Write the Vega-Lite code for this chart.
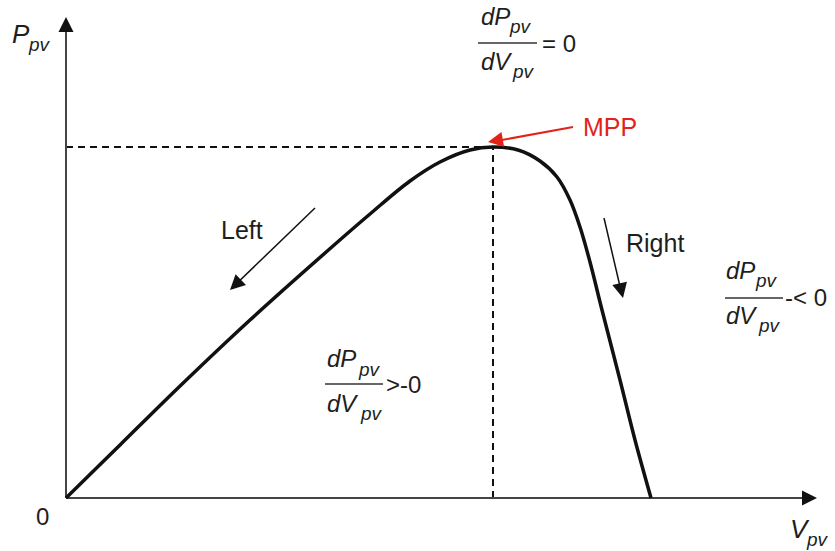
{
  "$schema": "https://vega.github.io/schema/vega-lite/v6.json",
  "width": 835,
  "height": 551,
  "padding": 0,
  "autosize": "none",
  "background": "white",
  "config": {"view": {"stroke": null}},
  "datasets": {
    "curve": [
      {"v": 0, "p": 0}, {"v": 54, "p": 53}, {"v": 112, "p": 110}, {"v": 184, "p": 178},
      {"v": 267, "p": 252}, {"v": 304, "p": 284}, {"v": 344, "p": 317}, {"v": 374, "p": 336},
      {"v": 404, "p": 348}, {"v": 427, "p": 351}, {"v": 452, "p": 348}, {"v": 474, "p": 337},
      {"v": 491, "p": 321}, {"v": 504, "p": 298}, {"v": 514, "p": 271}, {"v": 524, "p": 236},
      {"v": 536, "p": 188}, {"v": 554, "p": 118}, {"v": 569, "p": 58}, {"v": 585, "p": 0}
    ],
    "dashes": [
      {"v": 0, "p": 351, "v2": 427, "p2": 351},
      {"v": 427, "p": 0, "v2": 427, "p2": 351}
    ],
    "axes": [
      {"name": "P", "v": 0, "p": 0, "v2": 0, "p2": 470},
      {"name": "V", "v": 0, "p": 0, "v2": 740, "p2": 0}
    ],
    "arrows": [
      {"name": "Left", "v": 249, "p": 290, "v2": 166, "p2": 210},
      {"name": "Right", "v": 538, "p": 280, "v2": 556, "p2": 203},
      {"name": "MPP", "v": 507, "p": 371, "v2": 425, "p2": 356}
    ],
    "heads": [
      {"name": "P", "v": 0, "p": 481},
      {"name": "V", "v": 751, "p": 0},
      {"name": "Left", "v": 164, "p": 208},
      {"name": "Right", "v": 557, "p": 200},
      {"name": "MPP", "v": 422, "p": 356}
    ],
    "bars": [
      {"v": 412, "p": 455, "v2": 471},
      {"v": 259, "p": 114, "v2": 317},
      {"v": 659, "p": 200, "v2": 717}
    ],
    "labels": [
      {"kind": "big", "v": -54, "p": 455, "t": "P"},
      {"kind": "sub", "v": -37, "p": 447, "t": "pv"},
      {"kind": "num", "v": -30, "p": -27, "t": "0"},
      {"kind": "big", "v": 724, "p": -40, "t": "V"},
      {"kind": "sub", "v": 741, "p": -48, "t": "pv"},
      {"kind": "word", "v": 155, "p": 259, "t": "Left"},
      {"kind": "word", "v": 560, "p": 246, "t": "Right"},
      {"kind": "red", "v": 517, "p": 362, "t": "MPP"},
      {"kind": "frac", "v": 415, "p": 473, "t": "dP"},
      {"kind": "sub", "v": 444, "p": 465, "t": "pv"},
      {"kind": "frac", "v": 415, "p": 428, "t": "dV"},
      {"kind": "sub", "v": 447, "p": 420, "t": "pv"},
      {"kind": "num", "v": 476, "p": 446, "t": "= 0"},
      {"kind": "frac", "v": 261, "p": 131, "t": "dP"},
      {"kind": "sub", "v": 293, "p": 122, "t": "pv"},
      {"kind": "frac", "v": 261, "p": 86, "t": "dV"},
      {"kind": "sub", "v": 295, "p": 78, "t": "pv"},
      {"kind": "num", "v": 320, "p": 105, "t": ">-0"},
      {"kind": "frac", "v": 660, "p": 219, "t": "dP"},
      {"kind": "sub", "v": 690, "p": 211, "t": "pv"},
      {"kind": "frac", "v": 660, "p": 174, "t": "dV"},
      {"kind": "sub", "v": 693, "p": 166, "t": "pv"},
      {"kind": "num", "v": 719, "p": 192, "t": "-< 0"}
    ]
  },
  "encoding": {
    "x": {"field": "v", "type": "quantitative", "scale": {"domain": [-66, 769], "nice": false, "zero": false}, "axis": null},
    "y": {"field": "p", "type": "quantitative", "scale": {"domain": [-53, 498], "nice": false, "zero": false}, "axis": null}
  },
  "layer": [
    {
      "data": {"name": "dashes"},
      "mark": {"type": "rule", "color": "#111111", "strokeWidth": 2, "strokeDash": [7, 5]},
      "encoding": {"x2": {"field": "v2"}, "y2": {"field": "p2"}}
    },
    {
      "data": {"name": "axes"},
      "mark": {"type": "rule", "color": "#444444", "strokeWidth": 2},
      "encoding": {"x2": {"field": "v2"}, "y2": {"field": "p2"}}
    },
    {
      "data": {"name": "curve"},
      "mark": {"type": "line", "color": "#111111", "strokeWidth": 3.5, "interpolate": "catmull-rom"},
      "encoding": {}
    },
    {
      "data": {"name": "arrows"},
      "transform": [{"filter": "datum.name !== 'MPP'"}],
      "mark": {"type": "rule", "color": "#111111", "strokeWidth": 1.5},
      "encoding": {"x2": {"field": "v2"}, "y2": {"field": "p2"}}
    },
    {
      "data": {"name": "arrows"},
      "transform": [{"filter": "datum.name === 'MPP'"}],
      "mark": {"type": "rule", "color": "#e2231a", "strokeWidth": 2},
      "encoding": {"x2": {"field": "v2"}, "y2": {"field": "p2"}}
    },
    {
      "data": {"name": "heads"},
      "transform": [{"filter": "datum.name === 'P'"}],
      "mark": {"type": "point", "shape": "M0,0L-0.5,1L0.5,1Z", "filled": true, "opacity": 1, "color": "#111111", "size": 900, "angle": 0}
    },
    {
      "data": {"name": "heads"},
      "transform": [{"filter": "datum.name === 'V'"}],
      "mark": {"type": "point", "shape": "M0,0L-0.5,1L0.5,1Z", "filled": true, "opacity": 1, "color": "#111111", "size": 900, "angle": 90}
    },
    {
      "data": {"name": "heads"},
      "transform": [{"filter": "datum.name === 'Left'"}],
      "mark": {"type": "point", "shape": "M0,0L-0.5,1L0.5,1Z", "filled": true, "opacity": 1, "color": "#111111", "size": 900, "angle": 226}
    },
    {
      "data": {"name": "heads"},
      "transform": [{"filter": "datum.name === 'Right'"}],
      "mark": {"type": "point", "shape": "M0,0L-0.5,1L0.5,1Z", "filled": true, "opacity": 1, "color": "#111111", "size": 900, "angle": 167}
    },
    {
      "data": {"name": "heads"},
      "transform": [{"filter": "datum.name === 'MPP'"}],
      "mark": {"type": "point", "shape": "M0,0L-0.5,1L0.5,1Z", "filled": true, "opacity": 1, "color": "#e2231a", "size": 900, "angle": 260}
    },
    {
      "data": {"name": "bars"},
      "mark": {"type": "rule", "color": "#333333", "strokeWidth": 1.5},
      "encoding": {"x2": {"field": "v2"}}
    },
    {
      "data": {"name": "labels"},
      "transform": [{"filter": "datum.kind === 'big'"}],
      "mark": {"type": "text", "align": "left", "baseline": "alphabetic", "font": "Liberation Sans", "fontStyle": "italic", "fontSize": 26, "color": "#1e1e1e"},
      "encoding": {"text": {"field": "t"}}
    },
    {
      "data": {"name": "labels"},
      "transform": [{"filter": "datum.kind === 'frac'"}],
      "mark": {"type": "text", "align": "left", "baseline": "alphabetic", "font": "Liberation Sans", "fontStyle": "italic", "fontSize": 24, "color": "#1e1e1e"},
      "encoding": {"text": {"field": "t"}}
    },
    {
      "data": {"name": "labels"},
      "transform": [{"filter": "datum.kind === 'sub'"}],
      "mark": {"type": "text", "align": "left", "baseline": "alphabetic", "font": "Liberation Sans", "fontStyle": "italic", "fontSize": 19, "color": "#1e1e1e"},
      "encoding": {"text": {"field": "t"}}
    },
    {
      "data": {"name": "labels"},
      "transform": [{"filter": "datum.kind === 'num'"}],
      "mark": {"type": "text", "align": "left", "baseline": "alphabetic", "font": "Liberation Sans", "fontSize": 24, "color": "#1e1e1e"},
      "encoding": {"text": {"field": "t"}}
    },
    {
      "data": {"name": "labels"},
      "transform": [{"filter": "datum.kind === 'word'"}],
      "mark": {"type": "text", "align": "left", "baseline": "alphabetic", "font": "Liberation Sans", "fontSize": 25, "color": "#1e1e1e"},
      "encoding": {"text": {"field": "t"}}
    },
    {
      "data": {"name": "labels"},
      "transform": [{"filter": "datum.kind === 'red'"}],
      "mark": {"type": "text", "align": "left", "baseline": "alphabetic", "font": "Liberation Sans", "fontSize": 25, "color": "#e2231a"},
      "encoding": {"text": {"field": "t"}}
    }
  ]
}
